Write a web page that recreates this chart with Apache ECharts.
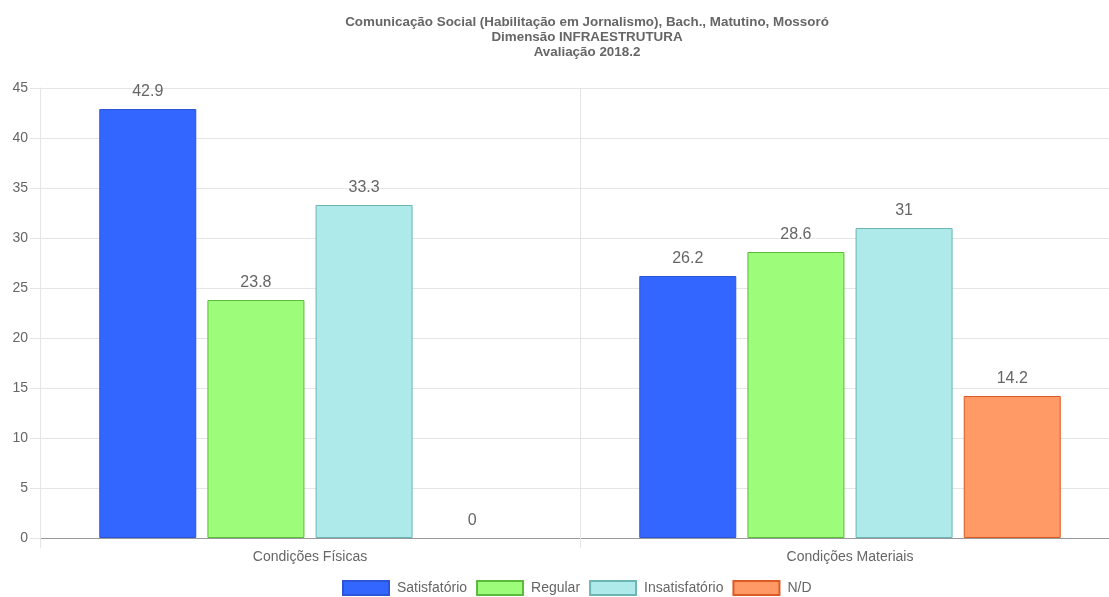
<!DOCTYPE html>
<html>
<head>
<meta charset="utf-8">
<script src="https://cdn.jsdelivr.net/npm/echarts@6/dist/echarts.min.js"></script>
<style>html,body{margin:0;padding:0;background:#fff;overflow:hidden}#c{width:1120px;height:597px}</style>
</head>
<body>
<div id="c"></div>
<script>
const titleLines = ['Comunicação Social (Habilitação em Jornalismo), Bach., Matutino, Mossoró', 'Dimensão INFRAESTRUTURA', 'Avaliação 2018.2'];
const categories = ['Condições Físicas', 'Condições Materiais'];
const seriesNames = ['Satisfatório', 'Regular', 'Insatisfatório', 'N/D'];
const satisfatorio = [42.9, 26.2];
const regular = [23.8, 28.6];
const insatisfatorio = [33.3, 31];
const nd = [0, 14.2];
const yTicks = {min: 0, max: 45, interval: 5};

const fills = ['#3366ff', '#9dfc7a', '#aeeaea', '#ff9966'];
const borders = ['#2b55d6', '#5cba3c', '#6bb5b5', '#dd5a22'];
const values = [satisfatorio, regular, insatisfatorio, nd];
const font = 'Liberation Sans, Arial, sans-serif';

const chart = echarts.init(document.getElementById('c'));
chart.setOption({
  animation: false,
  textStyle: {fontFamily: font},
  title: {
    text: titleLines.join('\n'),
    left: 582, top: 10, textAlign: 'center',
    textStyle: {fontSize: 13.4, fontWeight: 'bold', color: '#666', lineHeight: 15, fontFamily: font}
  },
  legend: {
    top: 575, left: 337,
    itemWidth: 46, itemHeight: 14, itemGap: 9,
    icon: 'rect',
    textStyle: {fontSize: 14, color: '#666', fontFamily: font, padding: [0, 0, 0, 3]},
    data: seriesNames
  },
  grid: {left: 40, top: 88, right: 0, height: 450, containLabel: false},
  xAxis: {
    type: 'category', data: categories, boundaryGap: true,
    axisLine: {lineStyle: {color: '#999'}},
    axisTick: {show: true, length: 10, lineStyle: {color: '#e5e5e5'}},
    axisLabel: {fontSize: 14, color: '#666', margin: 12, fontFamily: font},
    splitLine: {show: true, lineStyle: {color: '#e5e5e5'}}
  },
  yAxis: {
    type: 'value', min: yTicks.min, max: yTicks.max, interval: yTicks.interval,
    axisLine: {show: true, lineStyle: {color: '#e5e5e5'}},
    axisTick: {show: true, length: 10, lineStyle: {color: '#e5e5e5'}},
    axisLabel: {fontSize: 14, color: '#666', margin: 12, fontFamily: font},
    splitLine: {show: true, lineStyle: {color: '#e5e5e5'}}
  },
  series: seriesNames.map((name, i) => ({
    name, type: 'bar',
    data: values[i].map(v => v === 0 ? {value: v, itemStyle: {borderWidth: 0}} : v),
    barWidth: 97, barGap: '11.5%',
    itemStyle: {color: fills[i], borderColor: borders[i], borderWidth: 1},
    label: {show: true, position: 'top', distance: 9, fontSize: 16, color: '#666', fontFamily: font}
  }))
});
</script>
</body>
</html>
